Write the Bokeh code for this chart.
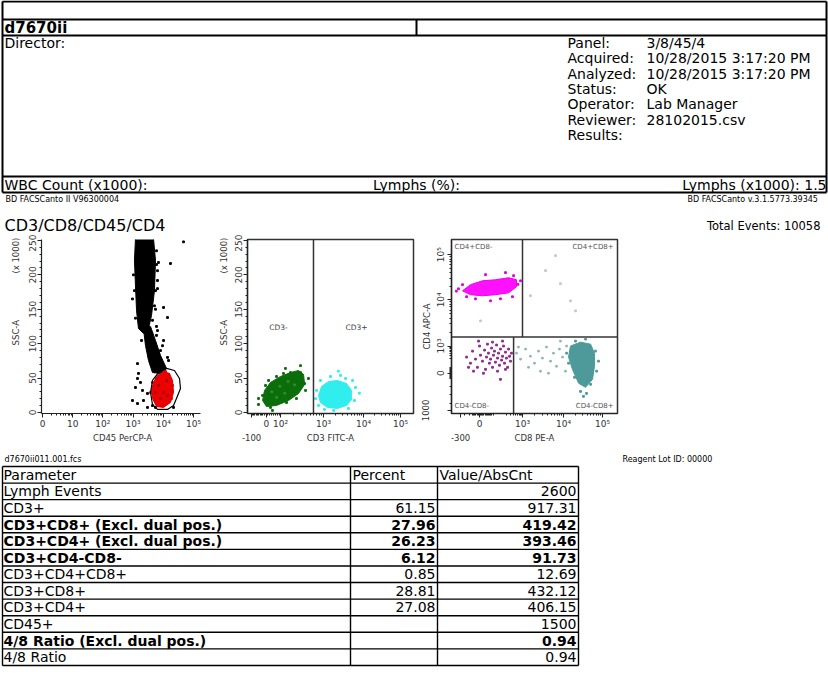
import numpy as np
from bokeh.plotting import figure
from bokeh.models import Range1d, FixedTicker, Label, Spacer, Span, LinearAxis
from bokeh.layouts import column, row
from bokeh.core.properties import value
from bokeh.embed import file_html
from bokeh.resources import INLINE

FONT = "DejaVu Sans"

# ---------------- report header ----------------
sample_id = "d7670ii"
info_labels = ["Panel:", "Acquired:", "Analyzed:", "Status:", "Operator:", "Reviewer:", "Results:"]
info_values = ["3/8/45/4", "10/28/2015 3:17:20 PM", "10/28/2015 3:17:20 PM", "OK",
               "Lab Manager", "28102015.csv", ""]
wbc_label = "WBC Count (x1000):"
lymph_pct_label = "Lymphs (%):"
lymph_abs_label = "Lymphs (x1000): 1.5"
instrument = "BD FACSCanto II V96300004"
software = "BD FACSCanto  v.3.1.5773.39345"
panel_title = "CD3/CD8/CD45/CD4"
total_events = 10058
fcs_file = "d7670ii011.001.fcs"
reagent_lot = "Reagent Lot ID: 00000"

# ---------------- results table ----------------
table_header = ["Parameter", "Percent", "Value/AbsCnt"]
parameters = ["Lymph Events", "CD3+", "CD3+CD8+ (Excl. dual pos.)", "CD3+CD4+ (Excl. dual pos.)",
              "CD3+CD4-CD8-", "CD3+CD4+CD8+", "CD3+CD8+", "CD3+CD4+", "CD45+",
              "4/8 Ratio (Excl. dual pos.)", "4/8 Ratio"]
percents = [None, 61.15, 27.96, 26.23, 6.12, 0.85, 28.81, 27.08, None, None, None]
abs_values = [2600, 917.31, 419.42, 393.46, 91.73, 12.69, 432.12, 406.15, 1500, 0.94, 0.94]
bold_rows = [False, False, True, True, True, False, False, False, False, True, False]

# ---------------- plot 1: SSC-A (x1000) vs CD45 PerCP-A ----------------
cd45_ticks = [0, 1, 2, 3, 4, 5]
cd45_tick_labels = ["0", "10", "10²", "10³", "10⁴", "10⁵"]
ssc_ticks = [0, 50, 100, 150, 200, 250]
ssc_title_at = [228, 116]
ssc_titles = ["(x 1000)", "SSC-A"]

gran_cd45 = [1200, 4730, 5520, 5100, 4070, 3240, 2210, 1510, 1300, 1200, 1110]
gran_ssc = [253, 253, 221, 177, 141, 122, 115, 122, 148, 184, 221]
mono_cd45 = [2210, 3770, 5520, 8070, 12800, 8070, 4390, 3240, 2570]
mono_ssc = [122, 125, 104.6, 83, 64, 56.7, 58, 75.5, 97.3]
lymph_cd45 = [4730, 6430, 10200, 16000, 20200, 21800, 17300, 10200, 5960, 4390, 4070]
lymph_ssc = [43.6, 53.8, 59.6, 56.7, 46.5, 29, 14.5, 7.3, 8.7, 20.3, 32]
gate_cd45 = [3770, 4390, 6920, 12800, 23400, 34400, 37100, 27300, 21800, 13800, 6430, 4390]
gate_ssc = [29, 46.5, 58, 64, 61, 49.4, 34.9, 20.3, 10.2, 4.4, 4.4, 11.6]
other_cd45 = [1030, 1110, 955, 1200, 5960, 6430, 5520, 5960, 10200, 17300, 46700, 6430, 13800,
              1400, 1510, 1200, 1760, 955, 1400, 2210, 3000, 2050, 1400,
              10200, 13800, 8070, 6430, 4390, 3240, 4730, 4390, 5520, 3000, 21800,
              5960, 6430, 5520, 5100, 4390, 6920,
              2570, 5960, 9420, 14900, 1900, 4070]
other_ssc = [200, 177, 165, 137, 215, 180, 150, 125, 152.6, 216.5, 248, 191.8, 138,
             71, 56.7, 36.3, 43.6, 17.4, 13, 17.4, 27.6, 32, 49.4,
             104.6, 80, 90, 119, 109, 94.4, 90, 10, 7.3, 7.3, 7.3,
             235, 206, 177, 155, 134, 218,
             126, 112, 97, 75.5, 104.6, 68]
lymph_edge_cd45 = [4390, 5960, 14900, 20200, 18700, 9420, 5520, 3770, 11800]
lymph_edge_ssc = [43.6, 49.4, 55.2, 39.2, 20.3, 10.2, 17.4, 29, 59.6]
lymph_core_cd45 = [6920, 10200, 8070, 12800, 5520, 13800]
lymph_core_ssc = [39.2, 29, 20.3, 46.5, 29, 24.7]

# ---------------- plot 2: SSC-A (x1000) vs CD3 FITC-A (display channels) ----------------
cd3_ticks = [25, 117, 204, 469, 716, 944]
cd3_tick_labels = ["-100", "0", "10²", "10³", "10⁴", "10⁵"]
cd3_gate = 407
cd3neg_ch = [105, 142, 204, 265, 315, 346, 352, 315, 253, 179, 117, 93]
cd3neg_ssc = [32, 43.6, 52.3, 58, 61, 55.2, 40.7, 27.6, 17.4, 10.2, 8.7, 17.4]
cd3neg_pts_ch = [93, 130, 179, 265, 327, 352, 302, 241, 142, 68, 358, 222, 278, 111,
                 68, 327, 234, 376, 154]
cd3neg_pts_ssc = [24.7, 46.5, 52.3, 58, 58, 42, 20.3, 14.5, 7.3, 11.6, 32, 56.7, 49.4, 39.2,
                  20.3, 68, 64, 49.4, 2.9]
cd3neg_core_ch = [150, 200, 250, 290, 180, 230]
cd3neg_core_ssc = [30, 38, 45, 40, 22, 28]
cd3pos_ch = [438, 457, 500, 555, 611, 642, 642, 611, 555, 494, 450]
cd3pos_ssc = [24.7, 37.8, 45, 46.5, 42, 32, 18.9, 10.2, 5.8, 7.3, 14.5]
cd3pos_pts_ch = [426, 450, 512, 605, 666, 660, 623, 531, 438, 574, 648, 475, 690, 420, 560]
cd3pos_pts_ssc = [32, 46.5, 52.3, 49.4, 36.3, 17.4, 5.8, 2.9, 10.2, 53.8, 46.5, 4.4, 28, 20, 60]
cd3_title_at = [512]

# ---------------- plot 3: CD4 APC-A vs CD8 PE-A (display channels) ----------------
cd8_ticks = [56, 173, 438, 691, 932]
cd8_tick_labels = ["-300", "0", "10³", "10⁴", "10⁵"]
cd4_ticks = [18, 237, 397, 669, 935]
cd4_tick_labels = ["1000", "0", "10³", "10⁴", "10⁵"]
cd4_split = 450
cd8_split_upper = 438
cd8_split_lower = 383
cd4pos_cd8 = [68, 117, 191, 271, 352, 401, 401, 352, 271, 191, 117]
cd4pos_cd4 = [722, 758, 781, 787, 799, 787, 746, 710, 699, 693, 699]
cd4pos_pts_cd8 = [43, 68, 426, 383, 333, 210, 148, 302, 376, 93, 241, 30, 410]
cd4pos_pts_cd4 = [734, 758, 781, 811, 829, 817, 675, 675, 687, 687, 663, 720, 760]
dn_cd8 = [93, 117, 130, 148, 160, 173, 179, 191, 204, 210, 216, 222, 228, 234, 241, 247, 253,
          259, 265, 271, 278, 284, 290, 296, 302, 309, 315, 321, 327, 333, 339, 346, 352, 358,
          364, 370, 136, 197, 284, 315, 167, 105, 302, 253, 333]
dn_cd4 = [332, 296, 367, 320, 272, 397, 343, 308, 373, 260, 332, 408, 355, 296, 320, 385, 272,
          343, 367, 302, 403, 326, 355, 284, 379, 314, 337, 397, 296, 361, 326, 272, 379, 337,
          308, 355, 249, 237, 249, 426, 426, 272, 201, 420, 260]
cd8pos_cd8 = [734, 796, 858, 882, 882, 870, 827, 784, 746, 722]
cd8pos_cd4 = [397, 420, 408, 355, 278, 201, 154, 178, 260, 332]
cd8pos_pts_cd8 = [710, 722, 765, 827, 888, 895, 858, 796, 833, 759, 907, 814]
cd8pos_pts_cd4 = [355, 296, 426, 438, 367, 249, 172, 130, 118, 213, 308, 101]
cd8dim_cd8 = [401, 426, 457, 487, 512, 537, 561, 586, 611, 629, 648, 666, 685, 703, 475,
              549, 598, 413, 672, 710]
cd8dim_cd4 = [355, 320, 379, 337, 296, 367, 326, 391, 308, 355, 278, 379, 332, 249, 272,
              249, 237, 391, 426, 397]
sparse_cd8 = [487, 642, 672, 734, 765, 580, 179]
sparse_cd4 = [693, 929, 764, 663, 604, 841, 545]
cd8_title_at = [512]
cd4_title_at = [512]

PLOT_H = 216
BORDER_TOP = 5
BORDER_BOTTOM = 37
TICK_SIZE = "9px"
TITLE_SIZE = "8.5px"
INK = "#333333"


def log_minors(lo, hi):
    return [lo + np.log10(m) * (hi - lo) for m in range(2, 10)]


def style_axis(ax, size):
    ax.axis_line_color = "#222222"
    ax.axis_line_width = 1.2
    ax.major_tick_line_color = "#222222"
    ax.minor_tick_line_color = "#222222"
    ax.major_tick_in = 0
    ax.major_tick_out = 4
    ax.minor_tick_in = 0
    ax.minor_tick_out = 2
    ax.major_label_text_font = FONT
    ax.major_label_text_font_size = size
    ax.major_label_text_color = INK
    ax.major_label_standoff = 1


def cyto_fig(width, left, right, xr, yr, outline):
    p = figure(width=width, height=PLOT_H, x_range=Range1d(*xr), y_range=Range1d(*yr),
               output_backend="svg", toolbar_location=None,
               min_border_left=left, min_border_right=right,
               min_border_top=BORDER_TOP, min_border_bottom=BORDER_BOTTOM)
    p.grid.visible = False
    p.outline_line_color = "#333333" if outline else None
    p.outline_line_width = 1.5
    p.background_fill_color = "white"
    p.border_fill_color = "white"
    for ax in p.axis:
        style_axis(ax, TICK_SIZE)
    p.yaxis.major_label_orientation = "vertical"
    return p


def set_ticks(ax, ticks, labels, minors, skip_first=False):
    ax.ticker = FixedTicker(ticks=ticks, minor_ticks=minors)
    over = {t: lab for t, lab in zip(ticks, labels)}
    if skip_first:
        over[ticks[0]] = ""
    ax.major_label_overrides = over


def outer_row(p, side, ticks, labels, standoff):
    """An extra, line-less axis stacked outside the main one: carries titles and
    the off-scale tick label that sit on a second row."""
    ax = LinearAxis(ticker=FixedTicker(ticks=ticks, minor_ticks=[]),
                    major_label_overrides={t: lab for t, lab in zip(ticks, labels)})
    style_axis(ax, TITLE_SIZE)
    ax.axis_line_color = None
    ax.major_tick_line_color = None
    ax.minor_tick_line_color = None
    ax.major_tick_out = 0
    ax.minor_tick_out = 0
    ax.major_label_standoff = standoff
    if side == "left":
        ax.major_label_orientation = "vertical"
    p.add_layout(ax, side)


def in_label(p, x, y, text, align="center", size="7px", color="#444444"):
    p.add_layout(Label(x=x, y=y, text=text, text_align=align, text_baseline="middle",
                       text_font=FONT, text_font_size=size, text_color=color))


# ---- plot 1 ----
p1 = cyto_fig(210, 41, 10, (-0.033, 5.232), (-1.5, 251.4), outline=False)
set_ticks(p1.xaxis[0], cd45_ticks, cd45_tick_labels,
          [k + np.log10(m) for k in range(5) for m in range(2, 10)])
set_ticks(p1.yaxis[0], ssc_ticks, [str(t) for t in ssc_ticks], list(range(0, 251, 10)))
outer_row(p1, "below", [2.65], ["CD45 PerCP-A"], 1)
outer_row(p1, "left", ssc_title_at, ssc_titles, 5)
p1.patch(np.log10(gran_cd45), gran_ssc, fill_color="black", line_color="black", line_width=1)
p1.patch(np.log10(mono_cd45), mono_ssc, fill_color="black", line_color="black", line_width=1)
p1.scatter(np.log10(other_cd45), other_ssc, marker="square", size=1.8, color="black")
p1.patch(np.log10(lymph_cd45), lymph_ssc, fill_color="#ee0000", line_color="#d00000", line_width=1)
p1.scatter(np.log10(lymph_edge_cd45), lymph_edge_ssc, marker="square", size=1.8, color="#dd0000")
p1.scatter(np.log10(lymph_core_cd45), lymph_core_ssc, marker="square", size=1.8, color="#a00000")
p1.patch(np.log10(gate_cd45), gate_ssc, fill_alpha=0, line_color="black", line_width=1.2)

# ---- plot 2 ----
p2 = cyto_fig(206, 37, 3, (0, 1024), (-1.5, 251.4), outline=True)
set_ticks(p2.xaxis[0], cd3_ticks, cd3_tick_labels,
          list(range(30, 110, 8)) + list(range(125, 200, 12))
          + log_minors(204, 469) + log_minors(469, 716) + log_minors(716, 944),
          skip_first=True)
set_ticks(p2.yaxis[0], ssc_ticks, [str(t) for t in ssc_ticks], list(range(0, 251, 10)))
outer_row(p2, "below", [cd3_ticks[0]] + cd3_title_at, [cd3_tick_labels[0], "CD3 FITC-A"], 1)
outer_row(p2, "left", ssc_title_at, ssc_titles, 3)
p2.add_layout(Span(location=cd3_gate, dimension="height", line_color="#333333", line_width=1.5))
p2.patch(cd3neg_ch, cd3neg_ssc, fill_color="#0b6e0b", line_color="#0b6e0b", line_width=1)
p2.scatter(cd3neg_pts_ch, cd3neg_pts_ssc, marker="square", size=1.8, color="#0b6e0b")
p2.scatter(cd3neg_core_ch, cd3neg_core_ssc, marker="square", size=1.8, color="#2f8f2f")
p2.patch(cd3pos_ch, cd3pos_ssc, fill_color="#30eeee", line_color="#30eeee", line_width=1)
p2.scatter(cd3pos_pts_ch, cd3pos_pts_ssc, marker="square", size=1.8, color="#30eeee")
in_label(p2, 191, 123.5, "CD3-", size="7.5px")
in_label(p2, 672, 123.5, "CD3+", size="7.5px")

# ---- plot 3 ----
p3 = cyto_fig(214, 35, 13, (0, 1024), (0, 1024), outline=True)
set_ticks(p3.xaxis[0], cd8_ticks, cd8_tick_labels,
          [80, 110] + list(range(130, 260, 7)) + log_minors(300, 438)
          + log_minors(438, 691) + log_minors(691, 932),
          skip_first=True)
set_ticks(p3.yaxis[0], cd4_ticks, cd4_tick_labels,
          [60, 110, 160] + list(range(205, 275, 6)) + log_minors(290, 397)
          + log_minors(397, 669) + log_minors(669, 935),
          skip_first=True)
outer_row(p3, "below", [cd8_ticks[0]] + cd8_title_at, [cd8_tick_labels[0], "CD8 PE-A"], 1)
outer_row(p3, "left", [cd4_ticks[0]] + cd4_title_at, [cd4_tick_labels[0], "CD4 APC-A"], 2)
p3.segment(x0=[0, cd8_split_upper, cd8_split_lower], y0=[cd4_split, cd4_split, 0],
           x1=[1024, cd8_split_upper, cd8_split_lower], y1=[cd4_split, 1024, cd4_split],
           line_color="#333333", line_width=1.5)
p3.scatter(sparse_cd8, sparse_cd4, marker="square", size=1.8, color="#c8c8c8")
p3.patch(cd4pos_cd8, cd4pos_cd4, fill_color="#ff10ff", line_color="#ee00ee", line_width=1)
p3.scatter(cd4pos_pts_cd8, cd4pos_pts_cd4, marker="square", size=1.8, color="#dd00dd")
p3.scatter(dn_cd8, dn_cd4, marker="square", size=1.8, color="#8e2e8e")
p3.scatter(cd8dim_cd8, cd8dim_cd4, marker="square", size=1.6, color="#8fb4b4")
p3.patch(cd8pos_cd8, cd8pos_cd4, fill_color="#4e9a9a", line_color="#4e9a9a", line_width=1)
p3.scatter(cd8pos_pts_cd8, cd8pos_pts_cd4, marker="square", size=1.8, color="#4e9a9a")
in_label(p3, 19, 977, "CD4+CD8-", align="left", color="#555555")
in_label(p3, 1000, 977, "CD4+CD8+", align="right", color="#555555")
in_label(p3, 19, 47, "CD4-CD8-", align="left", color="#555555")
in_label(p3, 1000, 47, "CD4-CD8+", align="right", color="#555555")


# ---------------- header and table canvases ----------------
def sheet(height, top):
    p = figure(width=828, height=height, x_range=Range1d(0, 828), y_range=Range1d(top + height, top),
               min_border=0, x_axis_location=None, y_axis_location=None,
               toolbar_location=None, output_backend="svg")
    p.grid.visible = False
    p.outline_line_color = None
    return p


def put(p, xs, ys, texts, size, align="left", bold=False, color="black"):
    p.text(x=xs, y=ys, text=texts, text_font=value(FONT), text_font_size=size,
           text_align=align, text_baseline="middle",
           text_font_style="bold" if bold else "normal", text_color=color)


head = sheet(234, 0)
hl_y = [1, 19, 35, 176, 192]
head.segment(x0=[2] * len(hl_y), y0=hl_y, x1=[826] * len(hl_y), y1=hl_y,
             line_color="black", line_width=2)
head.segment(x0=[2, 826, 416], y0=[1, 1, 19], x1=[2, 826, 416], y1=[192, 192, 35],
             line_color="black", line_width=2)
put(head, [4], [27.5], [sample_id], "15px", bold=True)
put(head, [4], [42.5], ["Director:"], "14px")
info_y = [42.5 + 15.3 * i for i in range(len(info_labels))]
put(head, [567] * len(info_labels), info_y, info_labels, "14px")
put(head, [646] * len(info_values), info_y, info_values, "14px")
put(head, [4], [184], [wbc_label], "14px")
put(head, [416], [184], [lymph_pct_label], "14px", align="center")
put(head, [826], [184], [lymph_abs_label], "14px", align="right")
put(head, [5], [199], [instrument], "8px")
put(head, [820], [199], [software], "8px", align="right")
put(head, [4], [225], [panel_title], "16px")
put(head, [820], [225], [f"Total Events: {total_events}"], "11.5px", align="right")

foot = sheet(248, 450)
put(foot, [4], [459], [fcs_file], "8px")
put(foot, [622], [459], [reagent_lot], "8px")

row_h = 16.58
top_y = 466
n_rows = len(parameters) + 1
col_x = [2, 350, 437, 578]
ys = [top_y + row_h * k for k in range(n_rows + 1)]
foot.segment(x0=[col_x[0]] * len(ys), y0=ys, x1=[col_x[-1]] * len(ys), y1=ys,
             line_color="black", line_width=1.4)
foot.segment(x0=col_x, y0=[ys[0]] * 4, x1=col_x, y1=[ys[-1]] * 4,
             line_color="black", line_width=1.4)
centers = [top_y + row_h * (k + 0.5) for k in range(n_rows)]
put(foot, [3, 352, 439], [centers[0]] * 3, table_header, "14px")
for k, (name, pct, val, b) in enumerate(zip(parameters, percents, abs_values, bold_rows)):
    yc = centers[k + 1]
    put(foot, [3], [yc], [name], "14px", bold=b)
    if pct is not None:
        put(foot, [435], [yc], [f"{pct:.2f}"], "14px", align="right", bold=b)
    put(foot, [576], [yc], [f"{val:g}"], "14px", align="right", bold=b)

plots = row(p1, p2, p3, Spacer(width=198, height=PLOT_H))
page = column(head, plots, foot)

open("out.html", "w").write(file_html(page, INLINE))
